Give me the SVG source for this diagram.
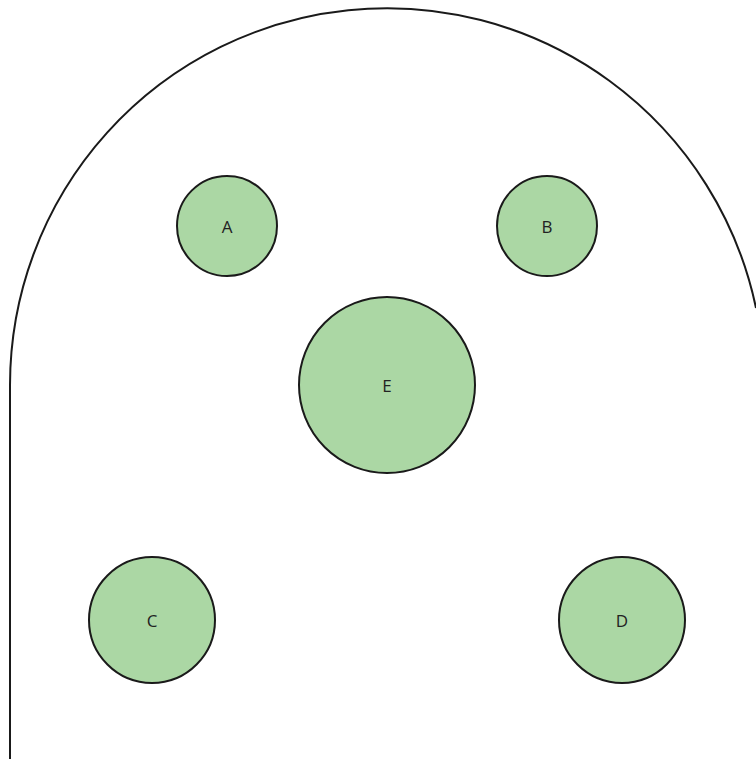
<svg xmlns="http://www.w3.org/2000/svg" width="756" height="759" viewBox="0 0 756 759">
<style>
.n{fill:#abd7a4;stroke:#1a1a1a;stroke-width:2}
.t{font-family:"Open Sans",sans-serif;font-size:17px;fill:#222;text-anchor:middle;dominant-baseline:central}
.b{fill:none;stroke:#1a1a1a;stroke-width:2}
</style>
<rect width="756" height="759" fill="#fff"/>
<g id="boundary"><path class="b" d="M10,759 L10,385 A377,377 0 0 1 756,308"/></g>
<g id="connectors"></g>
<g id="A"><circle class="n" cx="227" cy="226" r="50"/><text class="t" x="227" y="226">A</text></g>
<g id="B"><circle class="n" cx="547" cy="226" r="50"/><text class="t" x="547" y="226">B</text></g>
<g id="E"><circle class="n" cx="387" cy="385" r="88"/><text class="t" x="387" y="385">E</text></g>
<g id="C"><circle class="n" cx="152" cy="620" r="63"/><text class="t" x="152" y="620">C</text></g>
<g id="D"><circle class="n" cx="622" cy="620" r="63"/><text class="t" x="622" y="620">D</text></g>
</svg>
